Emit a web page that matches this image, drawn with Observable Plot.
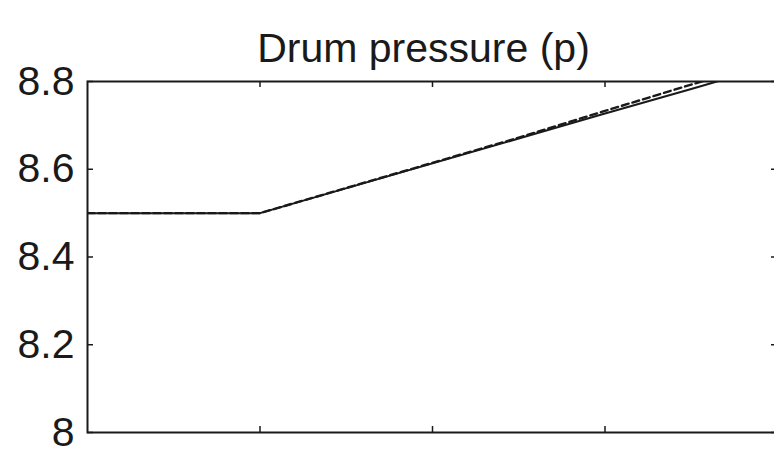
<!DOCTYPE html>
<html>
<head>
<meta charset="utf-8">
<script src="https://cdn.jsdelivr.net/npm/d3@7"></script>
<script src="https://cdn.jsdelivr.net/npm/@observablehq/plot@0.6"></script>
<style>
  html, body { margin: 0; padding: 0; background: #fff; overflow: hidden; }
  #chart svg { display: block; max-width: none !important; }
</style>
</head>
<body>
<div id="chart"></div>
<script>
// Drum pressure response: held at 8.5, then ramped after t = 100
const titleText = "Drum pressure (p)";
const time = [0, 100, 250, 300, 350, 400];
const pressure = [8.5, 8.5, 8.67, 8.727, 8.783, 8.84];
const reference = [8.5, 8.5, 8.672, 8.733, 8.793, 8.85];
const xTicks = [100, 200, 300];
const yTicks = [8, 8.2, 8.4, 8.6, 8.8];
const yTickLabels = ["8", "8.2", "8.4", "8.6", "8.8"];

const solid = time.map((t, i) => ({t, p: pressure[i]}));
const dashed = time.map((t, i) => ({t, p: reference[i]}));

const W = 777, H = 453, mL = 87, mT = 81, mB = 21, mR = 0;
const frameW = W - mL - mR, frameH = H - mT - mB;
const tickLen = 6;
const ink = "#1a1a1a";

const chart = Plot.plot({
  width: W,
  height: H,
  marginLeft: mL,
  marginTop: mT,
  marginBottom: mB,
  marginRight: mR,
  style: {fontFamily: "'Liberation Sans', Arial, Helvetica, sans-serif", fontSize: "41px", color: ink, background: "#fff"},
  x: {domain: [0, 400], axis: null},
  y: {domain: [8, 8.8], axis: null, label: null},
  marks: [
    Plot.line(dashed, {x: "t", y: "p", stroke: ink, strokeWidth: 2.4, strokeDasharray: "7,4", clip: true}),
    Plot.line(solid, {x: "t", y: "p", stroke: ink, strokeWidth: 2, clip: true}),
    // inward tick marks on all four sides
    Plot.tickY(yTicks, {stroke: ink, strokeWidth: 1.5, insetRight: frameW - tickLen}),
    Plot.tickY(yTicks, {stroke: ink, strokeWidth: 1.5, insetLeft: frameW - tickLen}),
    Plot.tickX(xTicks, {stroke: ink, strokeWidth: 1.5, insetTop: frameH - tickLen}),
    Plot.tickX(xTicks, {stroke: ink, strokeWidth: 1.5, insetBottom: frameH - tickLen}),
    Plot.frame({stroke: ink, strokeWidth: 2}),
    Plot.axisY(yTicks, {
      label: null,
      tickSize: 0,
      tickPadding: 13,
      fontSize: 41,
      dy: 0,
      fill: ink,
      tickFormat: (d) => yTickLabels[yTicks.indexOf(d)]
    }),
    Plot.text([titleText], {frameAnchor: "top", dy: -49, dx: -9, fontSize: 41, fill: ink})
  ]
});

document.getElementById("chart").appendChild(chart);
</script>
</body>
</html>
